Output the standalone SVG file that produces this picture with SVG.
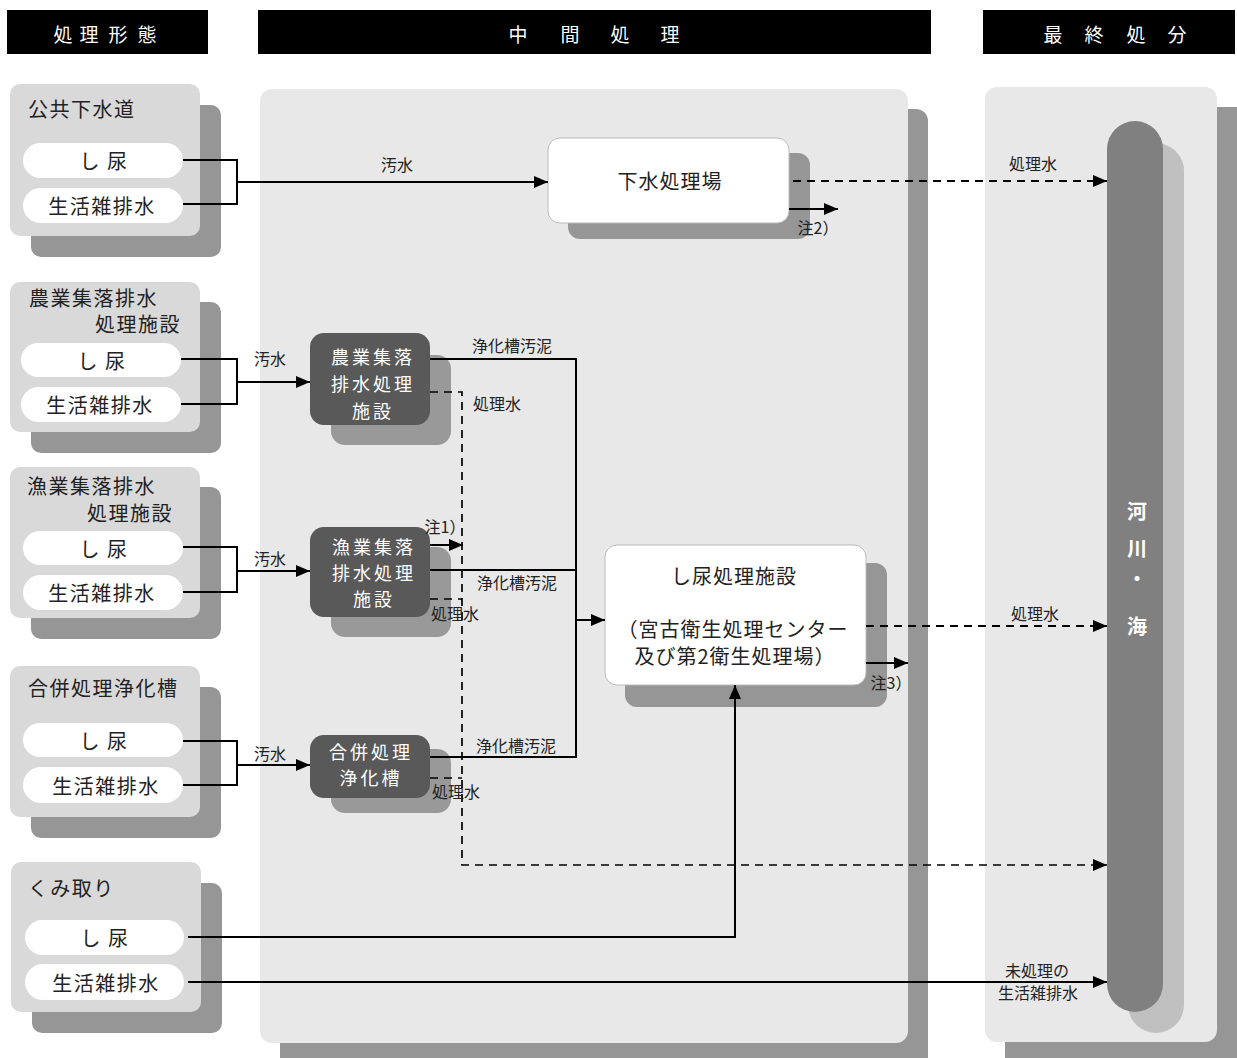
<svg xmlns="http://www.w3.org/2000/svg" width="1237" height="1058" viewBox="0 0 1237 1058">
<defs>
<style>
text{font-family:"Noto Sans CJK JP","Noto Sans CJK SC",sans-serif;fill:#222;}
.hdr{fill:#000;}
.hdrt{fill:#fff;font-size:19px;text-anchor:middle;dominant-baseline:central;}
.panel{fill:#e8e8e8;}
.pshadow{fill:#969696;}
.grp{fill:#d9d9d9;}
.gshadow{fill:#969696;}
.pill{fill:#fff;}
.title{font-size:20px;letter-spacing:1.5px;dominant-baseline:central;}
.pt{font-size:20px;letter-spacing:1.5px;text-anchor:middle;dominant-baseline:central;}
.dark{fill:#595959;}
.dshadow{fill:#999999;}
.dt{fill:#fff;font-size:18px;letter-spacing:3px;text-anchor:middle;dominant-baseline:central;}
.wnode{fill:#fff;stroke:#bbbbbb;stroke-width:1;}
.nt{font-size:20px;letter-spacing:1px;text-anchor:middle;dominant-baseline:central;}
.lbl{font-size:16px;text-anchor:middle;dominant-baseline:central;}
.solid{fill:none;stroke:#000;stroke-width:2;}
.dash{fill:none;stroke:#000;stroke-width:2;stroke-dasharray:8,6;}
.rt{fill:#fff;font-size:20px;font-weight:bold;text-anchor:middle;dominant-baseline:central;}
</style>
<marker id="arr" viewBox="0 0 14 12" refX="14" refY="6" markerWidth="14" markerHeight="12" markerUnits="userSpaceOnUse" orient="auto">
<path d="M0,0 L14,6 L0,12 Z" fill="#000"/>
</marker>
</defs>

<!-- headers -->
<g id="hdr-keitai">
<rect class="hdr" x="7" y="10" width="201" height="44"/>
<text class="hdrt" x="63 89 118 147" y="33">処理形態</text>
</g>
<g id="hdr-chukan">
<rect class="hdr" x="258" y="10" width="673" height="44"/>
<text class="hdrt" x="518 570 620 670" y="33">中間処理</text>
</g>
<g id="hdr-saishu">
<rect class="hdr" x="983" y="10" width="252" height="44"/>
<text class="hdrt" x="1053 1094 1136 1177" y="33">最終処分</text>
</g>

<!-- panels -->
<g id="panel-chukan">
<rect class="pshadow" x="280" y="109" width="648" height="970" rx="12"/>
<rect class="panel" x="260" y="89" width="648" height="954" rx="12"/>
</g>
<g id="panel-saishu">
<rect class="pshadow" x="1005" y="107" width="252" height="970" rx="12"/>
<rect class="panel" x="985" y="87" width="232" height="955" rx="12"/>
</g>

<!-- source groups -->
<g id="src-koukyou">
<rect class="gshadow" x="31" y="105" width="190" height="152" rx="10"/>
<rect class="grp" x="10" y="84" width="190" height="152" rx="10"/>
<text class="title" x="28" y="108">公共下水道</text>
<g id="koukyou-shinyou"><rect class="pill" x="23" y="143" width="160" height="35" rx="17.5"/><text class="pt" x="104" y="160">し 尿</text></g>
<g id="koukyou-zatsu"><rect class="pill" x="23" y="188" width="160" height="35" rx="17.5"/><text class="pt" x="102" y="205">生活雑排水</text></g>
</g>

<g id="src-nougyou">
<rect class="gshadow" x="31" y="302" width="190" height="151" rx="10"/>
<rect class="grp" x="10" y="282" width="190" height="150" rx="10"/>
<text class="title" x="29" y="297">農業集落排水</text>
<text class="title" x="95" y="323">処理施設</text>
<g id="nougyou-shinyou"><rect class="pill" x="21" y="343" width="160" height="34" rx="17"/><text class="pt" x="102" y="360">し 尿</text></g>
<g id="nougyou-zatsu"><rect class="pill" x="21" y="387" width="160" height="35" rx="17.5"/><text class="pt" x="100" y="404">生活雑排水</text></g>
</g>

<g id="src-gyogyou">
<rect class="gshadow" x="31" y="487" width="190" height="152" rx="10"/>
<rect class="grp" x="10" y="467" width="190" height="151" rx="10"/>
<text class="title" x="27" y="485">漁業集落排水</text>
<text class="title" x="87" y="512">処理施設</text>
<g id="gyogyou-shinyou"><rect class="pill" x="23" y="531" width="160" height="34" rx="17"/><text class="pt" x="104" y="548">し 尿</text></g>
<g id="gyogyou-zatsu"><rect class="pill" x="23" y="575" width="160" height="35" rx="17.5"/><text class="pt" x="102" y="592">生活雑排水</text></g>
</g>

<g id="src-gappei">
<rect class="gshadow" x="31" y="687" width="190" height="151" rx="10"/>
<rect class="grp" x="10" y="666" width="190" height="151" rx="10"/>
<text class="title" x="28" y="687">合併処理浄化槽</text>
<g id="gappei-shinyou"><rect class="pill" x="23" y="723" width="160" height="34" rx="17"/><text class="pt" x="104" y="740">し 尿</text></g>
<g id="gappei-zatsu"><rect class="pill" x="23" y="767" width="160" height="36" rx="18"/><text class="pt" x="106" y="785">生活雑排水</text></g>
</g>

<g id="src-kumitori">
<rect class="gshadow" x="32" y="883" width="190" height="150" rx="10"/>
<rect class="grp" x="11" y="862" width="190" height="150" rx="10"/>
<text class="title" x="28" y="887">くみ取り</text>
<g id="kumitori-shinyou"><rect class="pill" x="25" y="920" width="159" height="35" rx="17.5"/><text class="pt" x="105" y="937">し 尿</text></g>
<g id="kumitori-zatsu"><rect class="pill" x="25" y="964" width="159" height="36" rx="18"/><text class="pt" x="106" y="982">生活雑排水</text></g>
</g>

<!-- middle nodes -->
<g id="node-gesui">
<rect class="pshadow" x="568" y="153" width="242" height="86" rx="12"/>
<rect class="wnode" x="548" y="138" width="241" height="85" rx="12"/>
<text class="nt" x="670" y="180">下水処理場</text>
</g>

<g id="node-nougyou">
<rect class="dshadow" x="331" y="355" width="120" height="90" rx="14"/>
<rect class="dark" x="310" y="333" width="120" height="92" rx="14"/>
<text class="dt" x="373" y="356">農業集落</text>
<text class="dt" x="373" y="383">排水処理</text>
<text class="dt" x="373" y="410">施設</text>
</g>

<g id="node-gyogyou">
<rect class="dshadow" x="331" y="547" width="120" height="90" rx="14"/>
<rect class="dark" x="310" y="527" width="120" height="90" rx="14"/>
<text class="dt" x="374" y="546">漁業集落</text>
<text class="dt" x="374" y="572">排水処理</text>
<text class="dt" x="374" y="598">施設</text>
</g>

<g id="node-gappei">
<rect class="dshadow" x="331" y="749" width="120" height="64" rx="14"/>
<rect class="dark" x="310" y="735" width="120" height="63" rx="14"/>
<text class="dt" x="371" y="751">合併処理</text>
<text class="dt" x="371" y="777">浄化槽</text>
</g>

<g id="node-shinyou">
<rect class="pshadow" x="625" y="563" width="262" height="144" rx="12"/>
<rect class="wnode" x="605" y="545" width="261" height="140" rx="12"/>
<text class="nt" x="734" y="575">し尿処理施設</text>
<text class="nt" x="733" y="628">（宮古衛生処理センター</text>
<text class="nt" x="735" y="655">及び第2衛生処理場）</text>
</g>

<!-- river -->
<g id="node-river">
<rect fill="#c0c0c0" x="1128" y="143" width="56" height="890" rx="28"/>
<rect fill="#808080" x="1107" y="121" width="56" height="891" rx="28"/>
<text class="rt" x="1137" y="510">河</text>
<text class="rt" x="1137" y="547">川</text>
<text class="rt" x="1137" y="577">・</text>
<text class="rt" x="1137" y="625">海</text>
</g>

<!-- connectors -->
<g id="connectors">
<path class="solid" d="M183,160 H237 V204 H183"/>
<path class="solid" d="M237,182 H548" marker-end="url(#arr)"/>
<path class="dash" d="M793,181 H1107" marker-end="url(#arr)"/>
<path class="solid" d="M789,209 H838" marker-end="url(#arr)"/>
<path class="solid" d="M181,359 H237 V404 H181"/>
<path class="solid" d="M237,382 H310" marker-end="url(#arr)"/>
<path class="solid" d="M183,547 H237 V592 H183"/>
<path class="solid" d="M237,571 H310" marker-end="url(#arr)"/>
<path class="solid" d="M183,741 H237 V785 H183"/>
<path class="solid" d="M237,765 H310" marker-end="url(#arr)"/>
<path class="solid" d="M430,359 H576 V757 H430"/>
<path class="solid" d="M430,570 H576"/>
<path class="solid" d="M576,620 H605" marker-end="url(#arr)"/>
<path class="solid" d="M430,545 H463" marker-end="url(#arr)"/>
<path class="dash" style="stroke-width:1.7" d="M430,392 H462 V865 H1107" marker-end="url(#arr)"/>
<path class="dash" style="stroke-width:1.7" d="M430,599 H462"/>
<path class="dash" style="stroke-width:1.7" d="M430,778 H462"/>
<path class="dash" d="M866,626 H1107" marker-end="url(#arr)"/>
<path class="solid" d="M866,663 H908" marker-end="url(#arr)"/>
<path class="solid" d="M188,937 H735 V685" marker-end="url(#arr)"/>
<path class="solid" d="M188,982 H1107" marker-end="url(#arr)"/>
</g>

<!-- connector labels -->
<g id="labels">
<text class="lbl" x="397" y="164">汚水</text>
<text class="lbl" x="1033" y="163">処理水</text>
<text class="lbl" x="818" y="227">注2）</text>
<text class="lbl" x="270" y="358">汚水</text>
<text class="lbl" x="512" y="345">浄化槽汚泥</text>
<text class="lbl" x="497" y="403">処理水</text>
<text class="lbl" x="445" y="526">注1）</text>
<text class="lbl" x="517" y="582">浄化槽汚泥</text>
<text class="lbl" x="455" y="613">処理水</text>
<text class="lbl" x="270" y="558">汚水</text>
<text class="lbl" x="270" y="753">汚水</text>
<text class="lbl" x="516" y="745">浄化槽汚泥</text>
<text class="lbl" x="456" y="791">処理水</text>
<text class="lbl" x="1035" y="613">処理水</text>
<text class="lbl" x="891" y="682">注3）</text>
<text class="lbl" x="1037" y="970">未処理の</text>
<text class="lbl" x="1038" y="992">生活雑排水</text>
</g>
</svg>
